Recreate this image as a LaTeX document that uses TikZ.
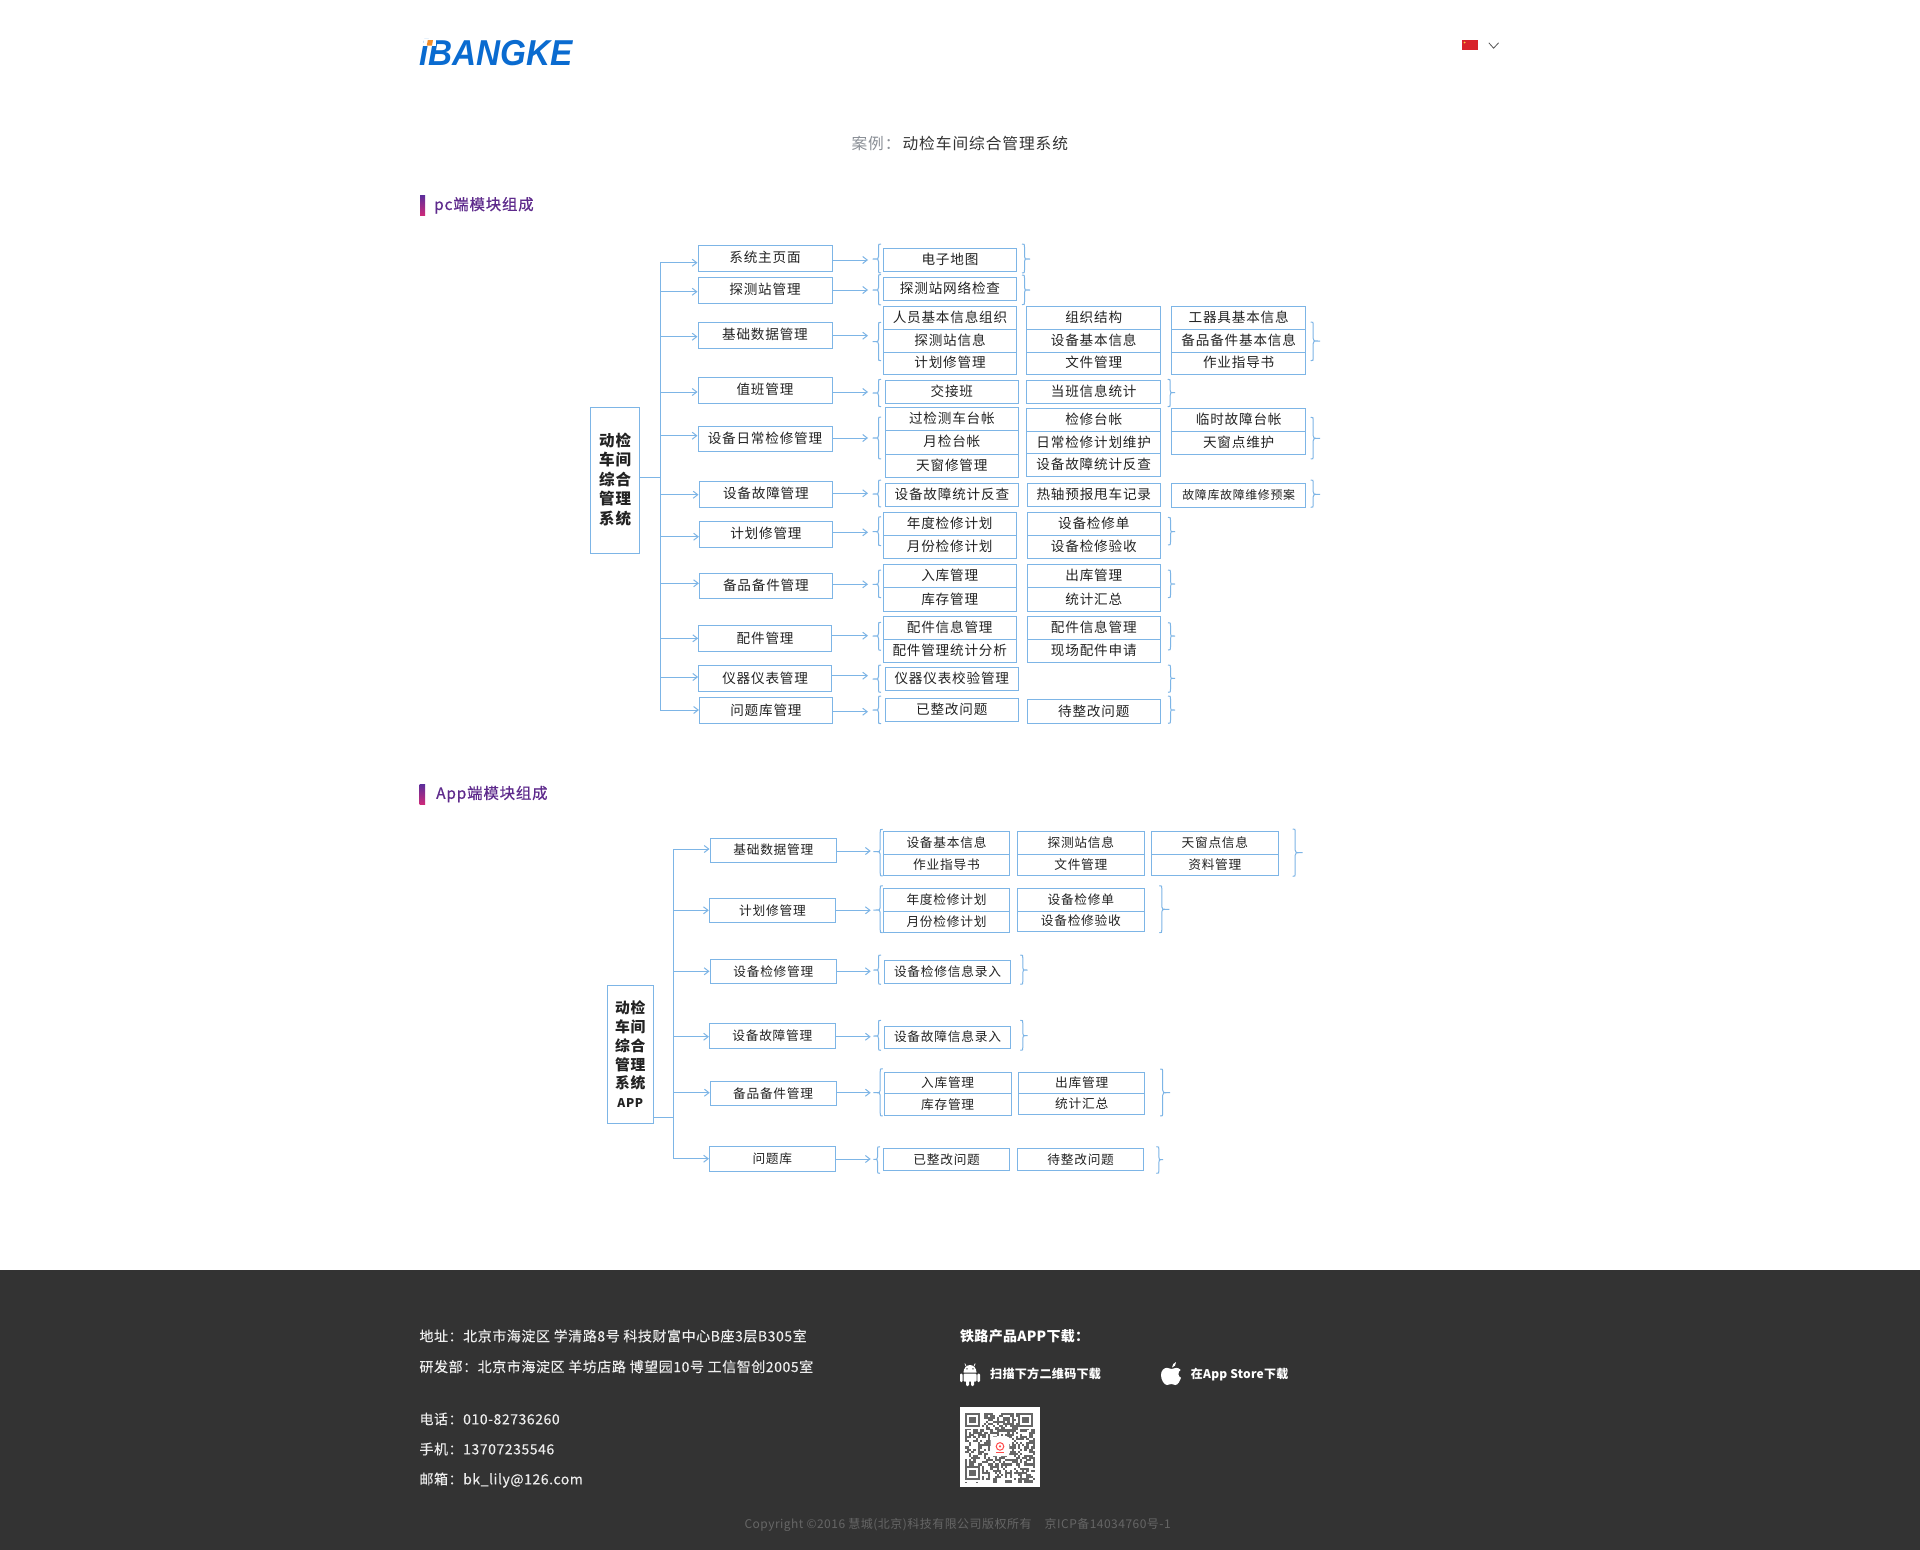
\documentclass[tikz,border=0pt]{standalone}
\usepackage{fontspec}
\usepackage{graphicx}
\usetikzlibrary{arrows.meta}
\setmainfont{Noto Sans CJK SC}
\newfontfamily\cjBox[LetterSpace=6]{Noto Sans CJK SC}
\newfontfamily\cjTitle[LetterSpace=6]{Noto Sans CJK SC}
\newfontfamily\cjSect[LetterSpace=5.5,FakeBold=0.6]{Noto Sans CJK SC}
\newfontfamily\cjFoot[LetterSpace=4,FakeBold=0.25]{Noto Sans CJK SC}
\newfontfamily\cjDown[LetterSpace=2]{Noto Sans CJK SC}
\newfontfamily\cjCopy[LetterSpace=4]{Noto Sans CJK SC}
\newfontfamily\logoFont{Liberation Sans}
\definecolor{ln}{HTML}{7DB5E6}
\definecolor{txt}{HTML}{222222}
\definecolor{purp}{HTML}{5E2A8C}
\definecolor{foot}{HTML}{333333}
\definecolor{foottxt}{HTML}{EDEDED}
\definecolor{qrgray}{HTML}{666666}
\definecolor{logoblue}{HTML}{0A6BD0}
\definecolor{logoorange}{HTML}{F28C28}
\definecolor{flagred}{HTML}{D8232A}
\definecolor{flagyel}{HTML}{FAD23C}
\definecolor{barA}{HTML}{5B2D9B}
\definecolor{barB}{HTML}{CC2A7A}
\definecolor{titlegray}{HTML}{8A8F96}
\definecolor{titledark}{HTML}{333333}
\tikzset{
  cell/.style={draw=ln,line width=1pt,inner sep=0pt,text=txt,align=center,text height=.96em,text depth=.04em},
  pcfont/.style={font=\cjBox\fontsize{13.6}{14}\selectfont},
  appfont/.style={font=\cjBox\fontsize{12.7}{14}\selectfont},
  conn/.style={draw=ln,line width=1pt},
  arr/.style={conn,-{Straight Barb[length=4.5pt,width=7pt,line width=1pt]}},
  brc/.style={draw=ln,line width=1pt},
  foottext/.style={anchor=base west,inner sep=0pt,text=foottxt,font=\cjFoot\fontsize{14}{16}\selectfont},
  sect/.style={anchor=base west,inner sep=0pt,text=purp,font=\cjSect\fontsize{15.4}{16}\selectfont},
}
% name, x1, y1, x2, y2, text
\newcommand{\bx}[7][pcfont]{%
  \node[cell,#1,minimum width={(#5-#3)*1pt},minimum height={(#6-#4)*1pt}] (#2) at ({(#3+#5)/2},{(#4+#6)/2}) {#7};}
% id, trunk x, branch y, arrow end x, arrow y
\newcommand{\lk}[5]{%
  \coordinate (t#1) at (#2,#3);
  \coordinate (e#1) at (#4,#5);
  \draw[arr] (t#1) -- (#1.west |- t#1);
  \draw[arr] (#1.east |- e#1) -- (e#1);}
% tip x, end x, top, bottom, tip y
\newcommand{\brL}[5]{%
  \pgfmathsetmacro{\sx}{#2-2.5}%
  \draw[brc] (#2,#3) .. controls (\sx,#3) .. (\sx,{#3+3}) -- (\sx,{#5-2.5}) .. controls (\sx,#5) .. (#1,#5) .. controls (\sx,#5) .. (\sx,{#5+2.5}) -- (\sx,{#4-3}) .. controls (\sx,#4) .. (#2,#4);}
\newcommand{\brR}[5]{%
  \pgfmathsetmacro{\sx}{#2+2.5}%
  \draw[brc] (#2,#3) .. controls (\sx,#3) .. (\sx,{#3+3}) -- (\sx,{#5-2.5}) .. controls (\sx,#5) .. (#1,#5) .. controls (\sx,#5) .. (\sx,{#5+2.5}) -- (\sx,{#4-3}) .. controls (\sx,#4) .. (#2,#4);}
\begin{document}
\begin{tikzpicture}[x=1pt,y=-1pt]
\useasboundingbox (0,0) rectangle (1920,1550);
\fill[white] (0,0) rectangle (1920,1550);
% header
\node[anchor=base west,inner sep=0pt] (logo) at (419,65.5) {\scalebox{0.925}[1]{\logoFont\bfseries\itshape\fontsize{36}{36}\selectfont\textcolor{logoblue}{iBANGKE}}};
\fill[white] (424,38.5) rectangle (436,45.8);
\fill[logoorange] (427.8,40) -- (433,40) -- (432,45.5) -- (426.8,45.5) -- cycle;
\fill[flagred] (1462,40) rectangle (1478,50);
\fill[flagyel] (1464.5,42.5) circle (1);
\draw[line width=.8pt,draw=black!65] (1488.8,42.8) -- (1493.6,48.2) -- (1498.6,42.8);
\node[anchor=base west,inner sep=0pt,font=\cjTitle\fontsize{15.7}{16}\selectfont] (title) at (851.4,149.2) {\textcolor{titlegray}{案例：}\hspace{2pt}\textcolor{titledark}{动检车间综合管理系统}};
\shade[top color=barA,bottom color=barB] (420,195) rectangle (425,215);
\node[sect] (pchead) at (434,210) {pc端模块组成};
\shade[top color=barA,bottom color=barB] (419.5,784) rectangle (425,804);
\node[sect] (apphead) at (436,798.8) {App端模块组成};
% PC root
\node[cell,minimum width=49pt,minimum height=146pt,font=\cjBox\bfseries\fontsize{15.5}{19.6}\selectfont,text height={},text depth={}] (rootpc) at (615.2,480.3) {动检\\车间\\综合\\管理\\系统\\[-16pt]\mbox{}};
\coordinate (pctop) at (660.3,262.7);
\coordinate (pcbot) at (660.3,710);
\coordinate (pcstem) at (660.3,477.7);
\draw[conn] (pctop) -- (pcbot);
\draw[conn] (rootpc.east |- pcstem) -- (pcstem);
% PC modules
\bx{ma}{698}{245}{832}{271}{系统主页面}
\bx{mb}{698}{277}{832}{303}{探测站管理}
\bx{mc}{698}{322}{832}{348}{基础数据管理}
\bx{md}{698}{377}{832}{403}{值班管理}
\bx{me}{698}{426}{832}{451}{设备日常检修管理}
\bx{mf}{699}{481.3}{832.7}{507.3}{设备故障管理}
\bx{mg}{699.4}{521.3}{832.4}{547.3}{计划修管理}
\bx{mh}{699.4}{573.3}{832.4}{598.7}{备品备件管理}
\bx{mi}{698.6}{625.3}{831.6}{651.7}{配件管理}
\bx{mj}{698.6}{665.7}{831.6}{691.3}{仪器仪表管理}
\bx{mk}{699.4}{697.7}{832.4}{723.7}{问题库管理}
\lk{ma}{660.3}{262.7}{868}{260}
\lk{mb}{660.3}{291.7}{868}{290}
\lk{mc}{660.3}{336.7}{868}{335.7}
\lk{md}{660.3}{392}{868}{392}
\lk{me}{660.3}{435.7}{868}{438}
\lk{mf}{660.3}{494.7}{868}{493.3}
\lk{mg}{660.3}{536.7}{868}{532.3}
\lk{mh}{660.3}{583.3}{868}{584.3}
\lk{mi}{660.3}{638.3}{868}{635.7}
\lk{mj}{660.3}{677}{868}{675.7}
\lk{mk}{660.3}{710}{868}{711.7}
% left braces PC
\brL{872.7}{881}{244}{273}{259}
\brL{872.7}{881}{274.5}{305}{290}
\brL{872.7}{881}{322.3}{360.7}{341.7}
\brL{872.7}{881}{379.3}{406.7}{393}
\brL{872.7}{881}{417}{459}{438}
\brL{872.7}{881}{480}{507}{494}
\brL{872.7}{881}{516.7}{545.7}{531.7}
\brL{872.7}{881}{570}{597.7}{584.3}
\brL{872.7}{881}{622.3}{650.3}{636}
\brL{872.7}{881}{665}{692.3}{679}
\brL{872.7}{881}{696}{723.7}{710}
% right braces PC
\brR{1030}{1022}{244}{273}{259}
\brR{1030}{1022}{275}{304.7}{290}
\brR{1320}{1310.7}{322}{360.7}{341}
\brR{1175}{1167.7}{379.3}{406.7}{392.7}
\brR{1320}{1310.7}{417.3}{459}{438.3}
\brR{1320}{1310.7}{480}{507.3}{494.3}
\brR{1175}{1168}{517.3}{545}{531.7}
\brR{1175}{1168}{570}{597.7}{584}
\brR{1175}{1168}{622.7}{650}{636}
\brR{1175}{1168}{665}{692.3}{678.3}
\brR{1175}{1168}{696}{723.3}{710}
% PC cells
\bx{a1}{883.3}{248.3}{1016.7}{271.3}{电子地图}
\bx{b1}{883.3}{277.3}{1016.7}{300.7}{探测站网络检查}
\bx{c1}{883.3}{306.3}{1016.7}{329.3}{人员基本信息组织}
\bx{c2}{883.3}{329.3}{1016.7}{352}{探测站信息}
\bx{c3}{883.3}{352}{1016.7}{374.7}{计划修管理}
\bx{c4}{1026.7}{306.3}{1160.7}{329.3}{组织结构}
\bx{c5}{1026.7}{329.3}{1160.7}{352}{设备基本信息}
\bx{c6}{1026.7}{352}{1160.7}{374.7}{文件管理}
\bx{c7}{1171.7}{306.3}{1305.7}{329.3}{工器具基本信息}
\bx{c8}{1171.7}{329.3}{1305.7}{352}{备品备件基本信息}
\bx{c9}{1171.7}{352}{1305.7}{374.7}{作业指导书}
\bx{d1}{885}{380.3}{1018.7}{403.7}{交接班}
\bx{d2}{1026.7}{380.3}{1160.7}{403.7}{当班信息统计}
\bx{e1}{885}{407.3}{1018.7}{430.3}{过检测车台帐}
\bx{e2}{885}{430.3}{1018.7}{454}{月检台帐}
\bx{e3}{885}{454}{1018.7}{477.7}{天窗修管理}
\bx{e4}{1026.7}{408.3}{1160.7}{431.3}{检修台帐}
\bx{e5}{1026.7}{431.3}{1160.7}{453.7}{日常检修计划维护}
\bx{e6}{1026.7}{453.7}{1160.7}{476.7}{设备故障统计反查}
\bx{e7}{1171.7}{408.7}{1305.7}{431.3}{临时故障台帐}
\bx{e8}{1171.7}{431.3}{1305.7}{454.7}{天窗点维护}
\bx{f1}{885}{483.3}{1018.7}{506.7}{设备故障统计反查}
\bx{f2}{1027}{483.3}{1160.6}{506.7}{热轴预报甩车记录}
\bx[font=\cjBox\fontsize{11.9}{14}\selectfont]{f3}{1171.7}{483.3}{1305.7}{507.3}{故障库故障维修预案}
\bx{g1}{883}{512.3}{1016.5}{535}{年度检修计划}
\bx{g2}{883}{535}{1016.5}{558.7}{月份检修计划}
\bx{g3}{1027}{512.3}{1160.6}{535}{设备检修单}
\bx{g4}{1027}{535}{1160.6}{558.7}{设备检修验收}
\bx{h1}{883}{564.7}{1016.5}{587.7}{入库管理}
\bx{h2}{883}{587.7}{1016.5}{611.3}{库存管理}
\bx{h3}{1027}{564.7}{1160.6}{587.7}{出库管理}
\bx{h4}{1027}{587.7}{1160.6}{611.3}{统计汇总}
\bx{i1}{883}{616.7}{1016.5}{639.7}{配件信息管理}
\bx{i2}{883}{639.7}{1016.5}{662.7}{配件管理统计分析}
\bx{i3}{1027}{616.7}{1160.6}{639.7}{配件信息管理}
\bx{i4}{1027}{639.7}{1160.6}{662.7}{现场配件申请}
\bx{j1}{885}{667.3}{1018.6}{690.7}{仪器仪表校验管理}
\bx{k1}{885}{698.3}{1018.6}{721.7}{已整改问题}
\bx{k2}{1027}{699.3}{1160.6}{723.7}{待整改问题}
% APP root
\node[cell,minimum width=46.3pt,minimum height=138pt,text height={},text depth={},font=\cjBox\bfseries\fontsize{14.8}{18.7}\selectfont] (rootapp) at (630.3,1054.3) {动检\\车间\\综合\\管理\\系统\\[0pt]{\fontsize{12}{14}\selectfont APP}};
\coordinate (apptop) at (673.4,849);
\coordinate (appbot) at (673.4,1158.7);
\coordinate (appstem) at (673.4,1117);
\draw[conn] (apptop) -- (appbot);
\draw[conn] (rootapp.east |- appstem) -- (appstem);
% APP modules
\bx[appfont]{na}{710}{838}{836.7}{862.3}{基础数据管理}
\bx[appfont]{nb}{709.3}{898.3}{835.7}{922.7}{计划修管理}
\bx[appfont]{nc}{710}{959.3}{836.7}{983.7}{设备检修管理}
\bx[appfont]{nd}{709.4}{1023.7}{835.3}{1048}{设备故障管理}
\bx[appfont]{ne}{710.2}{1081.3}{836}{1105.7}{备品备件管理}
\bx[appfont]{nf}{709.4}{1146.7}{835.3}{1171.3}{问题库}
\lk{na}{673.4}{849}{870.7}{851}
\lk{nb}{673.4}{910.3}{870.7}{910.3}
\lk{nc}{673.4}{971.3}{870.7}{971.3}
\lk{nd}{673.4}{1036.7}{870.7}{1036.7}
\lk{ne}{673.4}{1092.7}{870.7}{1092.7}
\lk{nf}{673.4}{1158.7}{870.7}{1159}
\brL{873.3}{882.7}{829.3}{876}{851.7}
\brL{873.3}{882.7}{885.7}{932.7}{910}
\brL{873.3}{881}{955}{984.3}{970}
\brL{873.3}{881}{1020.3}{1050.3}{1036}
\brL{873.3}{882.7}{1068.7}{1116}{1092.7}
\brL{873.3}{880}{1146.7}{1173.3}{1159.3}
\brR{1302.7}{1292.7}{829}{876.3}{852.7}
\brR{1169.3}{1159.3}{885.7}{932.7}{909.3}
\brR{1027.7}{1020.3}{955}{984.3}{970}
\brR{1027.7}{1020.3}{1020.3}{1050.3}{1035.7}
\brR{1170.2}{1160.2}{1069}{1116}{1092.7}
\brR{1163}{1156.4}{1146.7}{1173.3}{1159.7}
% APP cells
\bx[appfont]{p1}{883.3}{831.7}{1009.7}{854.3}{设备基本信息}
\bx[appfont]{p2}{883.3}{854.3}{1009.7}{875.7}{作业指导书}
\bx[appfont]{p3}{1017.7}{831.7}{1144}{854.3}{探测站信息}
\bx[appfont]{p4}{1017.7}{854.3}{1144}{875}{文件管理}
\bx[appfont]{p5}{1151.7}{831.7}{1278}{854.3}{天窗点信息}
\bx[appfont]{p6}{1151.7}{854.3}{1278}{875}{资料管理}
\bx[appfont]{q1}{883.3}{888.3}{1009.7}{911}{年度检修计划}
\bx[appfont]{q2}{883.3}{911}{1009.7}{932.7}{月份检修计划}
\bx[appfont]{q3}{1017.7}{888.3}{1144}{911}{设备检修单}
\bx[appfont]{q4}{1017.7}{911}{1144}{931.7}{设备检修验收}
\bx[appfont]{r1}{884.3}{960.3}{1010.7}{983.7}{设备检修信息录入}
\bx[appfont]{s1}{884.3}{1026.3}{1010.7}{1048}{设备故障信息录入}
\bx[appfont]{u1}{884.3}{1072.3}{1011}{1093.7}{入库管理}
\bx[appfont]{u2}{884.3}{1093.7}{1011}{1115.7}{库存管理}
\bx[appfont]{u3}{1018.6}{1072.3}{1144.9}{1093.7}{出库管理}
\bx[appfont]{u4}{1018.6}{1093.7}{1144.9}{1114.7}{统计汇总}
\bx[appfont]{v1}{883.5}{1148.3}{1009.8}{1170.7}{已整改问题}
\bx[appfont]{v2}{1017.5}{1148.3}{1143.8}{1170.7}{待整改问题}
% footer
\fill[foot] (0,1270) rectangle (1920,1550);
\node[foottext] (f1) at (419.3,1341.3) {地址：北京市海淀区 学清路8号 科技财富中心B座3层B305室};
\node[foottext] (f2) at (419.3,1372) {研发部：北京市海淀区 羊坊店路 博望园10号 工信智创2005室};
\node[foottext] (f3f) at (419.3,1424.3) {电话：010-82736260};
\node[foottext] (f4) at (419.3,1454.3) {手机：13707235546};
\node[foottext] (f5) at (419.3,1484.3) {邮箱：bk\_lily@126.com};
\node[foottext,text=white,font=\cjDown\bfseries\fontsize{14}{16}\selectfont] (f6) at (960,1341) {铁路产品APP下载：};
\node[foottext,text=white,font=\cjDown\bfseries\fontsize{12.1}{14}\selectfont] (f7) at (990,1378.6) {扫描下方二维码下载};
\node[foottext,text=white,font=\cjDown\bfseries\fontsize{12}{14}\selectfont] (f8) at (1190.7,1378.6) {在App Store下载};
\node[anchor=base west,inner sep=0pt,text=black!60,font=\cjCopy\fontsize{12}{14}\selectfont] (copy) at (744.3,1528) {Copyright ©2016 慧城(北京)科技有限公司版权所有\hspace{13pt}京ICP备14034760号-1};
% android icon
\begin{scope}[shift={(960,1362)}]
\fill[white] (3.5,10.5) arc[start angle=180,end angle=360,x radius=6.5,y radius=7.5] -- cycle;
\draw[white,line width=.7pt] (6.2,4.5) -- (4.8,1.5) (13.8,4.5) -- (15.2,1.5);
\fill[foot] (7,6.8) circle (.8) (13,6.8) circle (.8);
\fill[white,rounded corners=1pt] (3.5,11.5) rectangle (16.5,19.5);
\fill[white,rounded corners=1.2pt] (0,11.5) rectangle (2.7,20);
\fill[white,rounded corners=1.2pt] (17.3,11.5) rectangle (20,20);
\fill[white,rounded corners=1.2pt] (6,18) rectangle (9,24);
\fill[white,rounded corners=1.2pt] (11,18) rectangle (14,24);
\end{scope}
% apple icon
\begin{scope}[shift={(1161,1362)}]
\fill[white] (11,5.5) .. controls (11,3) and (13,.5) .. (15,0) .. controls (15.3,2.5) and (13.5,5.3) .. (11,5.5) -- cycle;
\fill[white] (10.5,7) .. controls (12,7) and (13.5,5.8) .. (15.5,5.8) .. controls (17,5.8) and (18.7,6.6) .. (19.6,8) .. controls (16.5,9.8) and (16.8,14.5) .. (20,15.8) .. controls (19,18.5) and (17,23) .. (14.5,23) .. controls (13,23) and (12,22) .. (10.3,22) .. controls (8.5,22) and (7.5,23) .. (6,23) .. controls (3,23) and (0,17.5) .. (0,13) .. controls (0,8.5) and (3,5.8) .. (6,5.8) .. controls (7.7,5.8) and (9,7) .. (10.5,7) -- cycle;
\end{scope}
% QR code
\fill[white] (960,1407) rectangle (1040,1487);
\begin{scope}[shift={(965,1412.5)},x=2.12pt,y=-2.12pt]
\pgfmathsetseed{11}
\foreach \i in {0,...,32}{\foreach \j in {0,...,32}{%
  \pgfmathrandominteger{\rr}{0}{100}%
  \ifnum\rr<52\relax\fill[qrgray] (\i,\j) rectangle ++(1.02,1.02);\fi}}
\foreach \a/\b in {0/0,25/0,0/25}{
  \fill[white] (\a-.0,\b-.0) rectangle ++(8,8);
  \fill[qrgray] (\a,\b) rectangle ++(7,7);
  \fill[white] (\a+1,\b+1) rectangle ++(5,5);
  \fill[qrgray] (\a+2,\b+2) rectangle ++(3,3);}
\end{scope}
\fill[white,rounded corners=2pt] (990.7,1436.7) rectangle (1009.3,1456);
\draw[red!70!white,line width=1pt] (1000,1446.4) circle (3.8);
\fill[red!70!white] (1000,1446.4) circle (1.2);
\draw[red!70!white,line width=.8pt] (996,1452) -- (1004,1452);
\end{tikzpicture}
\end{document}
